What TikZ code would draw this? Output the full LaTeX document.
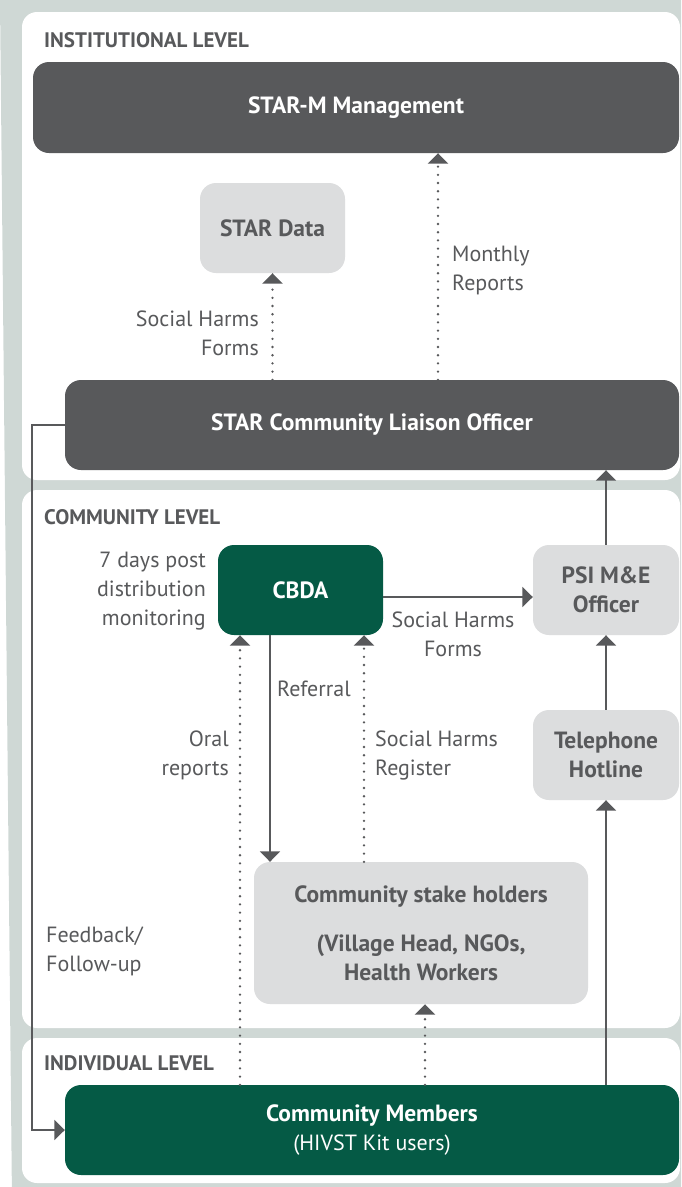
\documentclass[tikz,border=0pt]{standalone}
\usepackage{fontspec}
\setmainfont{PT Sans}
\usepackage{tikz}
\usetikzlibrary{arrows.meta}

\definecolor{framegray}{HTML}{CFD8D5}
\definecolor{darkbox}{HTML}{58595B}
\definecolor{lightbox}{HTML}{DCDDDE}
\definecolor{greenbox}{HTML}{055A45}
\definecolor{inkgray}{HTML}{58595B}

\begin{document}
\begin{tikzpicture}[x=1pt, y=-1pt,
    every node/.style={font=\fontsize{22}{29}\selectfont, text=inkgray},
    box/.style={rounded corners=16pt, inner sep=0pt, align=center, font=\bfseries\fontsize{23.5}{29}\selectfont},
    darkbx/.style={box, fill=darkbox, text=white},
    greenbx/.style={box, fill=greenbox, text=white},
    lightbx/.style={box, fill=lightbox, text=inkgray},
    levellabel/.style={anchor=west, inner sep=0pt, font=\bfseries\fontsize{21}{24}\selectfont},
    lbl/.style={inner sep=0pt},
    solidarrow/.style={draw=inkgray, line width=2pt, -{Triangle[width=20pt, length=10.5pt]}},
    dotarrow/.style={draw=inkgray, line width=2.6pt, line cap=round, dash pattern=on 0pt off 8.2pt,
        -{Triangle[width=20pt, length=10.5pt, line cap=butt]}}]
        \useasboundingbox (0,0) rectangle (681,1187);

        % frame and the three levels
        \fill [framegray] (0,0) -- (681,0) -- (681,1187) -- (26,1187) arc (270:180:14) -- cycle;
        \fill [white, rounded corners=15pt] (22,12) rectangle (680,480);
        \fill [white, rounded corners=15pt] (22,490) rectangle (680,1028);
        \fill [white, rounded corners=15pt] (22,1038) rectangle (680,1183);

        \node[levellabel] (instlevel) at (44,40) {INSTITUTIONAL LEVEL};
        \node[levellabel] (commlevel) at (44,517) {COMMUNITY LEVEL};
        \node[levellabel] (indlevel) at (44,1063) {INDIVIDUAL LEVEL};

        % boxes
        \node[darkbx, minimum width=646pt, minimum height=91pt] (mgmt) at (356,107.5) {STAR-M Management};
        \node[lightbx, minimum width=145pt, minimum height=90pt] (data) at (272.5,228) {STAR Data};
        \node[darkbx, minimum width=614pt, minimum height=90pt] (clo) at (372,425) {STAR Community Liaison Officer};
        \node[greenbx, minimum width=165pt, minimum height=90pt] (cbda) at (300.5,590) {CBDA};
        \node[lightbx, minimum width=146pt, minimum height=90pt] (psi) at (606,590) {PSI M\&E\\Officer};
        \node[lightbx, minimum width=146pt, minimum height=90pt] (hotline) at (606,755) {Telephone\\Hotline};
        \node[lightbx, minimum width=334pt, minimum height=142pt] (stake) at (421,933)
            {Community stake holders\\[20pt](Village Head, NGOs,\\Health Workers};
        \node[greenbx, minimum width=614pt, minimum height=90pt] (members) at (372,1130)
            {Community Members\\\mdseries\fontsize{22}{29}\selectfont (HIVST Kit users)};

        % columns of the vertical connectors
        \coordinate (monthcol) at (438,0);
        \coordinate (oralcol) at (240,0);
        \coordinate (refcol) at (270,0);
        \coordinate (regcol) at (364,0);
        \coordinate (stakecol) at (425,0);
        \coordinate (feedcol) at (32,0);

        % connectors
        \draw[dotarrow] (clo.north -| monthcol) -- (mgmt.south -| monthcol);
        \draw[dotarrow] (clo.north -| data.south) -- (data.south);
        \draw[solidarrow] (psi.north) -- (clo.south -| psi.north);
        \draw[solidarrow] (hotline.north) -- (psi.south);
        \draw[solidarrow] (members.north -| hotline.south) -- (hotline.south);
        \draw[solidarrow] ([yshift=-7pt]cbda.east) -- ([yshift=-7pt]psi.west);
        \draw[dotarrow] (members.north -| oralcol) -- (cbda.south -| oralcol);
        \draw[solidarrow] (cbda.south -| refcol) -- (stake.north -| refcol);
        \draw[dotarrow] (stake.north -| regcol) -- (cbda.south -| regcol);
        \draw[dotarrow] (members.north -| stakecol) -- (stake.south -| stakecol);
        \draw[solidarrow] (clo.west) -| (feedcol |- members.west) -- (members.west);

        % connector labels
        \node[lbl, anchor=west, align=left] (monthly) at (452,270) {Monthly\\Reports};
        \node[lbl, anchor=east, align=right] (dataforms) at (259,333) {Social Harms\\Forms};
        \node[lbl, anchor=east, align=right] (sevendays) at (206,591) {7 days post\\distribution\\monitoring};
        \node[lbl, align=center] (psiforms) at (453,634) {Social Harms\\Forms};
        \node[lbl, anchor=west] (referral) at (277,689) {Referral};
        \node[lbl, anchor=east, align=right] (oral) at (229,755) {Oral\\reports};
        \node[lbl, anchor=west, align=left] (register) at (375,755) {Social Harms\\Register};
        \node[lbl, anchor=west, align=left] (feedback) at (46,951) {Feedback/\\Follow-up};
\end{tikzpicture}
\end{document}
